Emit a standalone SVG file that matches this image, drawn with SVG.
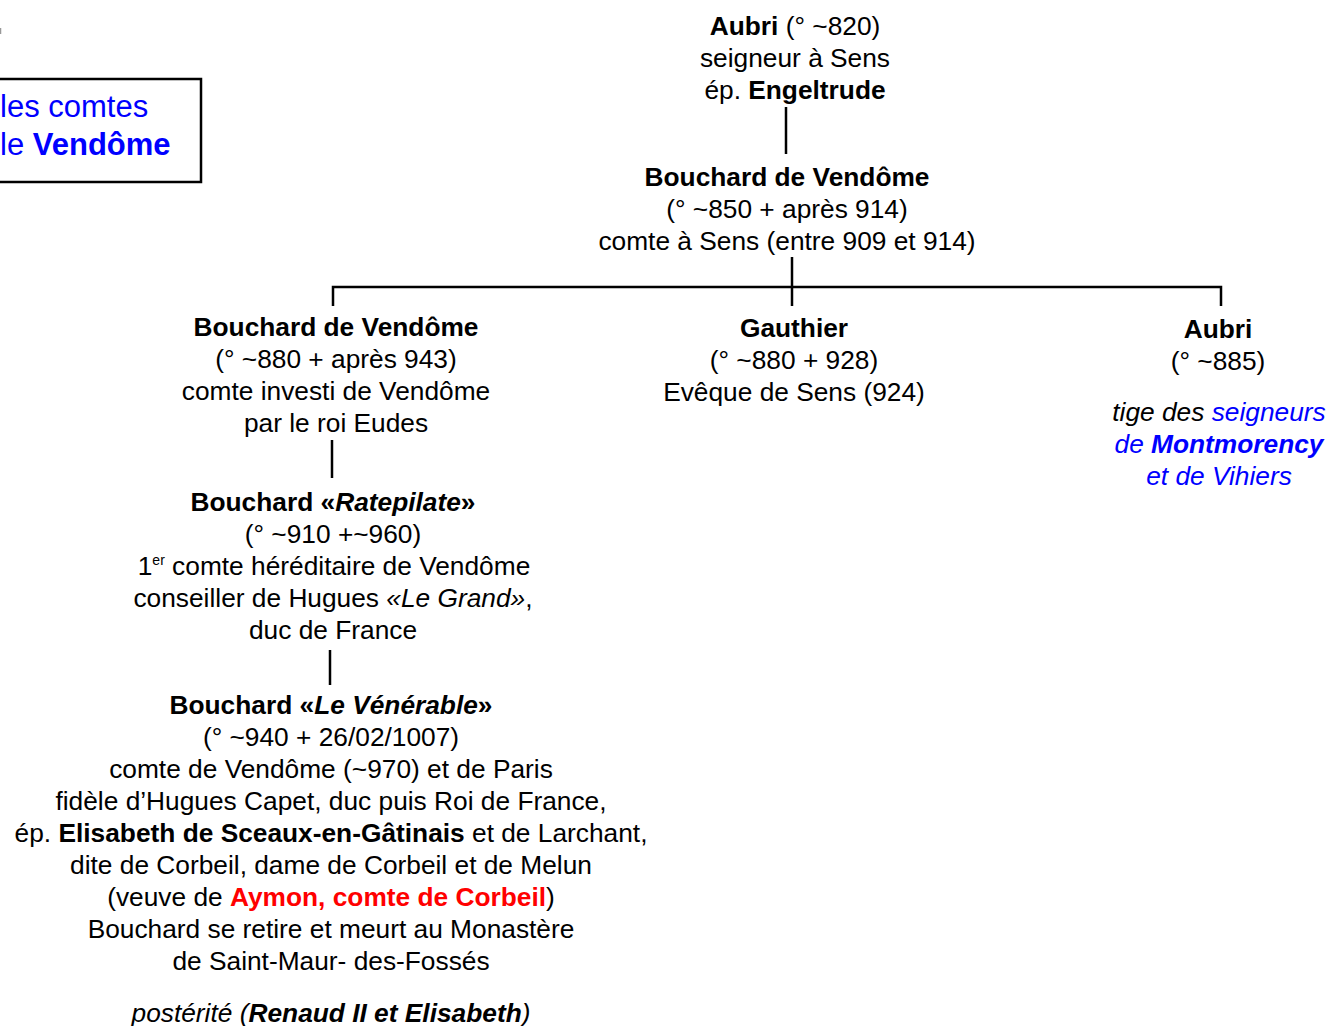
<svg xmlns="http://www.w3.org/2000/svg" width="1328" height="1026" viewBox="0 0 1328 1026">
<style>
text{font-family:"Liberation Sans",Arial,sans-serif;font-size:26.3px;fill:#000;text-anchor:middle}
.b{font-weight:bold}
.i{font-style:italic}
.blue{fill:#0000FF}
.red{fill:#FF0000}
.ln{stroke:#000;stroke-width:2.5;fill:none}
</style>
<rect width="1328" height="1026" fill="#fff"/>
<line x1="0.5" y1="28" x2="0.5" y2="34" stroke="#999" stroke-width="1.5"/>
<g id="title">
<rect x="-10" y="79" width="211" height="103" fill="#fff" stroke="#000" stroke-width="2.5"/>
<text x="0" y="117" style="text-anchor:start;font-size:31px" class="blue">les comtes</text>
<text x="0" y="155" style="text-anchor:start;font-size:31px" class="blue">le <tspan class="b">Vendôme</tspan></text>
</g>
<g id="connectors">
<line class="ln" x1="786" y1="107" x2="786" y2="154"/>
<line class="ln" x1="792" y1="257" x2="792" y2="306"/>
<polyline class="ln" points="333,306 333,287 1221,287 1221,306"/>
<line class="ln" x1="332" y1="440" x2="332" y2="478"/>
<line class="ln" x1="330" y1="650" x2="330" y2="685"/>
</g>
<g id="aubri820">
<text x="795" y="35"><tspan class="b">Aubri</tspan> (° ~820)</text>
<text x="795" y="67">seigneur à Sens</text>
<text x="795" y="99">ép. <tspan class="b">Engeltrude</tspan></text>
</g>
<g id="bouchard850">
<text x="787" y="186" class="b">Bouchard de Vendôme</text>
<text x="787" y="218">(° ~850 + après 914)</text>
<text x="787" y="250">comte à Sens (entre 909 et 914)</text>
</g>
<g id="bouchard880">
<text x="336" y="336" class="b">Bouchard de Vendôme</text>
<text x="336" y="368">(° ~880 + après 943)</text>
<text x="336" y="400">comte investi de Vendôme</text>
<text x="336" y="432">par le roi Eudes</text>
</g>
<g id="gauthier">
<text x="794" y="337" class="b">Gauthier</text>
<text x="794" y="369">(° ~880 + 928)</text>
<text x="794" y="401">Evêque de Sens (924)</text>
</g>
<g id="aubri885">
<text x="1218" y="338" class="b">Aubri</text>
<text x="1218" y="370">(° ~885)</text>
<text x="1219" y="421" class="i">tige des <tspan class="blue">seigneurs</tspan></text>
<text x="1219" y="453" class="i blue">de <tspan class="b">Montmorency</tspan></text>
<text x="1219" y="485" class="i blue">et de Vihiers</text>
</g>
<g id="ratepilate">
<text x="333" y="511" class="b">Bouchard «<tspan class="i">Ratepilate</tspan>»</text>
<text x="333" y="543">(° ~910 +~960)</text>
<text x="334" y="575">1<tspan style="font-size:14px" dy="-10">er</tspan><tspan dy="10"> comte héréditaire de Vendôme</tspan></text>
<text x="333" y="607">conseiller de Hugues <tspan class="i">«Le Grand»</tspan>,</text>
<text x="333" y="639">duc de France</text>
</g>
<g id="venerable">
<text x="331" y="714" class="b">Bouchard «<tspan class="i">Le Vénérable</tspan>»</text>
<text x="331" y="746">(° ~940 + 26/02/1007)</text>
<text x="331" y="778">comte de Vendôme (~970) et de Paris</text>
<text x="331" y="810">fidèle d’Hugues Capet, duc puis Roi de France,</text>
<text x="331" y="842">ép. <tspan class="b">Elisabeth de Sceaux-en-Gâtinais</tspan> et de Larchant,</text>
<text x="331" y="874">dite de Corbeil, dame de Corbeil et de Melun</text>
<text x="331" y="906">(veuve de <tspan class="b red">Aymon, comte de Corbeil</tspan>)</text>
<text x="331" y="938">Bouchard se retire et meurt au Monastère</text>
<text x="331" y="970">de Saint-Maur- des-Fossés</text>
<text x="331" y="1022" class="i">postérité (<tspan class="b">Renaud II et Elisabeth</tspan>)</text>
</g>
</svg>
